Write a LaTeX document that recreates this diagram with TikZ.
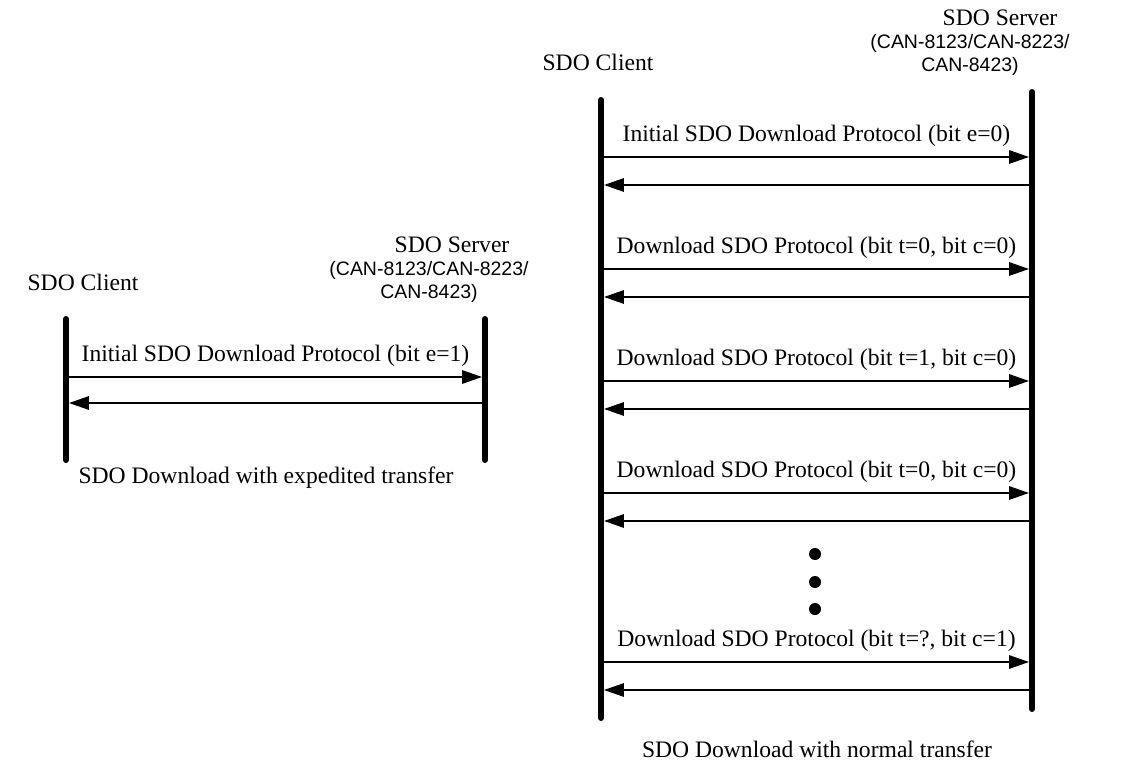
\documentclass[tikz,border=0pt]{standalone}
\usepackage{fontspec}
\setmainfont{Liberation Serif}
\newfontfamily\arialfont{Liberation Sans}
\usetikzlibrary{arrows.meta,positioning}

\begin{document}
\begin{tikzpicture}[
    x=0.75pt, y=-0.75pt,
    every node/.style={text=black, inner sep=0pt},
    lifeline/.style={line width=4.5pt, line cap=round},
    msg/.style={line width=1.5pt, shorten >=2.2pt, -{Triangle[length=15pt, width=10pt]}},
    lbl/.style={font=\fontsize{17.7}{21}\selectfont},
    dev/.style={font=\arialfont\fontsize{14.6}{17.5}\selectfont, align=center},
    dot/.style={circle, fill=black, inner sep=0pt, minimum size=9pt}
]
    \useasboundingbox (0,0) rectangle (1122,767);

    % ==========================
    % LEFT: expedited transfer
    % ==========================
    \coordinate (CLtop) at (66,319);
    \coordinate (CLbot) at (66,460);
    \coordinate (SLtop) at (485,319);
    \coordinate (SLbot) at (485,460);
    \draw[lifeline] (CLtop) -- (CLbot);
    \draw[lifeline] (SLtop) -- (SLbot);

    \node[lbl] (clientL) at (83,282) {SDO Client};
    \node[lbl] (serverL) at (452,245) {SDO Server};
    \node[dev] (devL) at (429,282) {(CAN-8123/CAN-8223/\\CAN-8423)};

    \coordinate (cL) at (66,377);
    \coordinate (sL) at (485,377);
    \coordinate (crL) at (66,403);
    \coordinate (srL) at (485,403);
    \draw[msg] (cL) -- node[lbl, above=7pt] {Initial SDO Download Protocol (bit e=1)} (sL);
    \draw[msg] (srL) -- (crL);

    \node[lbl] (capL) at (266,478) {SDO Download with expedited transfer};

    % ==========================
    % RIGHT: normal transfer
    % ==========================
    \coordinate (CRtop) at (601,100);
    \coordinate (CRbot) at (601,718);
    \coordinate (SRtop) at (1032,92);
    \coordinate (SRbot) at (1032,709);
    \draw[lifeline] (CRtop) -- (CRbot);
    \draw[lifeline] (SRtop) -- (SRbot);

    \node[lbl] (clientR) at (598,62) {SDO Client};
    \node[lbl] (serverR) at (1000,18) {SDO Server};
    \node[dev] (devR) at (970,55) {(CAN-8123/CAN-8223/\\CAN-8423)};

    % request / response pairs
    \foreach \i/\y/\txt in {
        1/157/{Initial SDO Download Protocol (bit e=0)},
        2/269/{Download SDO Protocol (bit t=0, bit c=0)},
        3/381/{Download SDO Protocol (bit t=1, bit c=0)},
        4/493/{Download SDO Protocol (bit t=0, bit c=0)},
        5/662/{Download SDO Protocol (bit t=?, bit c=1)}}
    {
        \coordinate (c\i) at (601,\y);
        \coordinate (s\i) at (1032,\y);
        \coordinate (cr\i) at (601,\y+28);
        \coordinate (sr\i) at (1032,\y+28);
        \draw[msg] (c\i) -- node[lbl, above=7pt] {\txt} (s\i);
        \draw[msg] (sr\i) -- (cr\i);
    }

    % ellipsis
    \foreach \j/\y in {1/554, 2/582, 3/609}
        \node[dot] (dot\j) at (815,\y) {};

    \node[lbl] (capR) at (817,749) {SDO Download with normal transfer};

\end{tikzpicture}
\end{document}
